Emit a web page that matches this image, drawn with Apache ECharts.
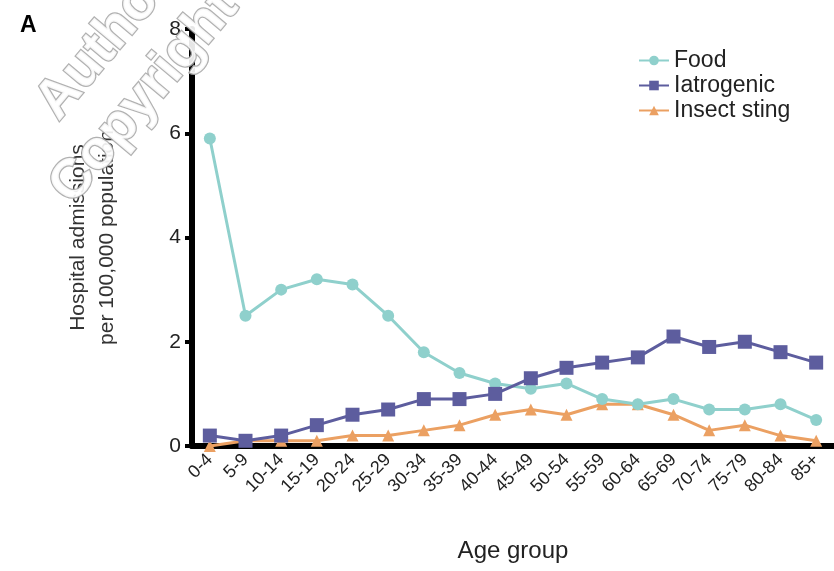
<!DOCTYPE html>
<html>
<head>
<meta charset="utf-8">
<script src="https://cdn.jsdelivr.net/npm/echarts@6/dist/echarts.min.js"></script>
<style>html,body{margin:0;padding:0;background:#fff}#c{width:834px;height:571px}</style>
</head>
<body>
<div id="c"></div>
<script>
const categories = ['0-4','5-9','10-14','15-19','20-24','25-29','30-34','35-39','40-44','45-49','50-54','55-59','60-64','65-69','70-74','75-79','80-84','85+'];
const food = [5.9, 2.5, 3.0, 3.2, 3.1, 2.5, 1.8, 1.4, 1.2, 1.1, 1.2, 0.9, 0.8, 0.9, 0.7, 0.7, 0.8, 0.5];
const iatrogenic = [0.2, 0.1, 0.2, 0.4, 0.6, 0.7, 0.9, 0.9, 1.0, 1.3, 1.5, 1.6, 1.7, 2.1, 1.9, 2.0, 1.8, 1.6];
const insectSting = [0.0, 0.1, 0.1, 0.1, 0.2, 0.2, 0.3, 0.4, 0.6, 0.7, 0.6, 0.8, 0.8, 0.6, 0.3, 0.4, 0.2, 0.1];
const yTicks = [0, 2, 4, 6, 8];

const chart = echarts.init(document.getElementById('c'), null, {renderer: 'canvas'});
const font = '"Liberation Sans", Arial, Helvetica, sans-serif';
const wm = {fill: '#ffffff', stroke: '#a8a8a8', lineWidth: 2.5, font: 'bold 55px ' + font,
  shadowBlur: 9, shadowColor: 'rgba(0,0,0,0.5)', shadowOffsetX: 4, shadowOffsetY: 4,
  textAlign: 'left', textVerticalAlign: 'bottom', opacity: 0.9};
chart.setOption({
  animation: false,
  textStyle: {fontFamily: font},
  grid: {left: 192, right: 0, top: 29, bottom: 125, containLabel: false},
  legend: {
    orient: 'vertical', left: 633, top: 44, itemGap: 2, itemWidth: 30, itemHeight: 12,
    textStyle: {fontSize: 23, color: '#222'},
    data: ['Food', 'Iatrogenic', 'Insect sting']
  },
  xAxis: {
    type: 'category', data: categories, boundaryGap: true,
    name: 'Age group', nameLocation: 'middle', nameGap: 93,
    nameTextStyle: {fontSize: 24, color: '#222'},
    axisLine: {lineStyle: {color: '#000', width: 6}},
    axisTick: {alignWithLabel: true, length: 9, lineStyle: {color: '#000', width: 5}},
    axisLabel: {rotate: 45, fontSize: 18, color: '#222', margin: 11, interval: 0}
  },
  yAxis: {
    type: 'value', min: 0, max: 8, interval: 2,
    name: 'Hospital admissions\nper 100,000 population', nameLocation: 'middle', nameGap: 70,
    nameTextStyle: {fontSize: 21, color: '#333', lineHeight: 29},
    axisLine: {show: true, lineStyle: {color: '#000', width: 6}},
    axisTick: {show: true, length: 7, lineStyle: {color: '#000', width: 4}},
    splitLine: {show: false},
    axisLabel: {fontSize: 21, color: '#222', margin: 11,
      formatter: v => yTicks.includes(v) ? String(v) : ''}
  },
  series: [
    {name: 'Food', type: 'line', data: food, symbol: 'circle', symbolSize: 12,
      itemStyle: {color: '#8fd0cc'}, lineStyle: {width: 3, color: '#8fd0cc'}, z: 3},
    {name: 'Iatrogenic', type: 'line', data: iatrogenic, symbol: 'rect', symbolSize: 14,
      itemStyle: {color: '#5d5d9e'}, lineStyle: {width: 3, color: '#5d5d9e'}, z: 4},
    {name: 'Insect sting', type: 'line', data: insectSting, symbol: 'triangle', symbolSize: 12,
      itemStyle: {color: '#eba062'}, lineStyle: {width: 3, color: '#eba062'}, z: 2}
  ],
  graphic: [
    {type: 'text', left: 20, top: 14, style: {text: 'A', font: 'bold 23px ' + font, fill: '#000'}, z: 10},
    {type: 'text', x: 68, y: 130, rotation: Math.PI * 50 / 180, style: Object.assign({text: 'Author'}, wm), z: 20},
    {type: 'text', x: 82, y: 214, rotation: Math.PI * 50 / 180, style: Object.assign({text: 'Copyright'}, wm), z: 20}
  ]
});
</script>
</body>
</html>
